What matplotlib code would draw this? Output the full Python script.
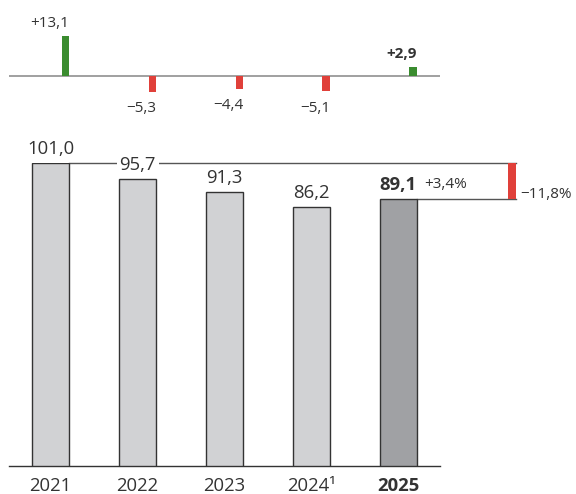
import matplotlib
matplotlib.use('Agg')
import matplotlib.pyplot as plt

# ---- data ----
years = ['2021', '2022', '2023', '2024', '2025']
tick_labels = ['2021', '2022', '2023', '2024\u00b9', '2025']
values = [101.0, 95.7, 91.3, 86.2, 89.1]
value_labels = ['101,0', '95,7', '91,3', '86,2', '89,1']
changes = [13.1, -5.3, -4.4, -5.1, 2.9]
change_labels = ['+13,1', '\u22125,3', '\u22124,4', '\u22125,1', '+2,9']
yoy_label = '+3,4%'
total_label = '\u221211,8%'

# ---- style ----
W, H = 576, 494
PX = 0.72  # points per pixel at dpi 100
C_BAR = '#d1d2d4'
C_BAR_HI = '#a0a1a4'
C_EDGE = '#333333'
C_GREEN = '#3a8c2f'
C_RED = '#e0403a'
C_TEXT = '#333333'
C_LINE = '#555555'
plt.rcParams['font.family'] = ['Open Sans', 'DejaVu Sans']
FS_MAIN = 13.3
FS_SMALL = 11.0

fig = plt.figure(figsize=(W / 100, H / 100), dpi=100)
fig.patch.set_facecolor('white')

x0_px, step_px = 50.7, 86.9
xlim = ((9 - x0_px) / step_px, (440 - x0_px) / step_px)
bw = 37.5 / step_px
xs = list(range(len(years)))

# ---- main axes ----
ax = fig.add_axes([9 / W, (H - 466) / H, 431 / W, 303 / H])
ax.set_xlim(*xlim)
ax.set_ylim(0, 101)
colors = [C_BAR] * (len(years) - 1) + [C_BAR_HI]
ax.bar(xs, values, width=bw, color=colors, edgecolor=C_EDGE, linewidth=1.0, zorder=3)
for s in ['top', 'right', 'left']:
    ax.spines[s].set_visible(False)
ax.spines['bottom'].set_color(C_EDGE)
ax.spines['bottom'].set_linewidth(1.4 * PX)
ax.set_yticks([])
ax.set_xticks(xs)
ax.set_xticklabels(tick_labels, fontsize=FS_MAIN, color=C_TEXT)
ax.get_xticklabels()[-1].set_fontweight('bold')
ax.tick_params(axis='x', length=0, pad=8)

for i, (v, lab) in enumerate(zip(values, value_labels)):
    ax.annotate(lab, (i, v), xytext=(0, 14 * PX), textcoords='offset points',
                ha='center', va='center', fontsize=FS_MAIN, color=C_TEXT,
                fontweight='bold' if i == len(values) - 1 else 'normal',
                bbox=dict(facecolor='white', edgecolor='none', pad=2.0), zorder=5,
                annotation_clip=False)

# connector lines and total change bar
red_l = (508.3 - x0_px) / step_px
red_r = (515.7 - x0_px) / step_px
ax.plot([0 + bw / 2, red_r], [values[0], values[0]], color=C_LINE, lw=1.0, zorder=2, clip_on=False)
ax.plot([4 + bw / 2, red_r], [values[-1], values[-1]], color=C_LINE, lw=1.0, zorder=2, clip_on=False)
ax.bar([(red_l + red_r) / 2], [values[0] - values[-1]], bottom=values[-1], width=red_r - red_l,
       color=C_RED, zorder=3, clip_on=False)
ax.annotate(yoy_label, (4 + bw / 2, values[-1]), xytext=(7 * PX, 14 * PX), textcoords='offset points',
            ha='left', va='center', fontsize=FS_SMALL, color=C_TEXT, annotation_clip=False)
ax.annotate(total_label, (red_r, values[-1]), xytext=(5 * PX, 4 * PX), textcoords='offset points',
            ha='left', va='center', fontsize=FS_SMALL, color=C_TEXT, annotation_clip=False)

# ---- top change axes ----
ax2 = fig.add_axes([9 / W, (H - 93.7) / H, 431 / W, 60 / H])
ax2.set_xlim(*xlim)
ax2.set_ylim(-6, 14)
ax2.axis('off')
ax2.axhline(0, color='#8c8c8c', lw=1.6 * PX, zorder=1)
cw = 7.7 / step_px
cx = [i + bw / 2 - cw / 2 for i in xs]
ccol = [C_GREEN if c > 0 else C_RED for c in changes]
ax2.bar(cx, changes, width=cw, color=ccol, zorder=2)
for i, (c, lab) in enumerate(zip(changes, change_labels)):
    off = 13 * PX if c > 0 else -17 * PX
    ax2.annotate(lab, (i + bw / 2, c), xytext=(0, off), textcoords='offset points',
                 ha='right', va='center', fontsize=FS_SMALL, color=C_TEXT,
                 fontweight='bold' if i == len(changes) - 1 else 'normal',
                 annotation_clip=False)

fig.savefig('out.png', dpi=100, facecolor='white')
